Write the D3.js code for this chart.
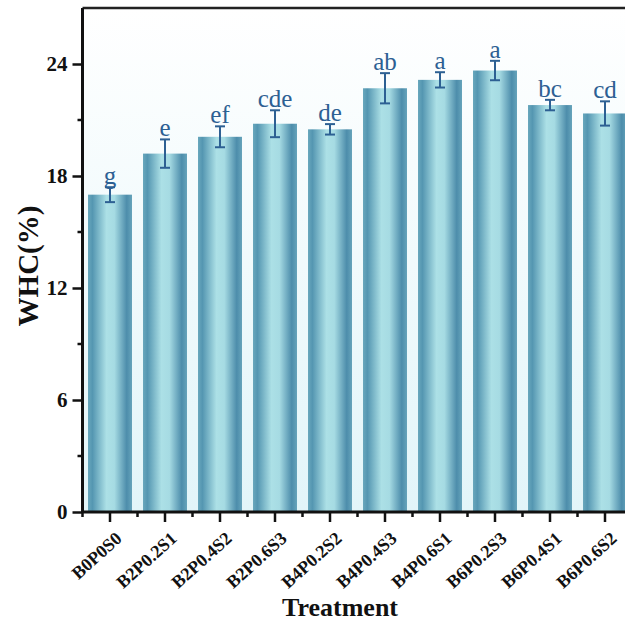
<!DOCTYPE html>
<html>
<head>
<meta charset="utf-8">
<script src="https://cdn.jsdelivr.net/npm/d3@7"></script>
<style>
  body { margin: 0; background: #fff; }
  svg { display: block; }
  text { font-family: "Liberation Serif", "Times New Roman", serif; }
</style>
</head>
<body>
<div id="chart"></div>
<script>
// data
var treatments = ["B0P0S0", "B2P0.2S1", "B2P0.4S2", "B2P0.6S3", "B4P0.2S2",
                  "B4P0.4S3", "B4P0.6S1", "B6P0.2S3", "B6P0.4S1", "B6P0.6S2"];
var whc = [17.0, 19.2, 20.1, 20.8, 20.5, 22.7, 23.15, 23.65, 21.8, 21.35];
var whcErr = [0.4, 0.76, 0.56, 0.72, 0.28, 0.81, 0.41, 0.52, 0.28, 0.65];
var letters = ["g", "e", "ef", "cde", "de", "ab", "a", "a", "bc", "cd"];
var yTicks = [0, 6, 12, 18, 24];
var yMinor = [3, 9, 15, 21];

var width = 625, height = 622;
var margin = {top: 8, left: 82.5, bottom: 110};
var plotW = 550;   // frame runs past the right edge of the picture
var plotH = height - margin.top - margin.bottom;
var serif = "'Liberation Serif', 'Times New Roman', serif";

var svg = d3.select("#chart").append("svg")
  .attr("width", width).attr("height", height);

var defs = svg.append("defs");
var barGrad = defs.append("linearGradient").attr("id", "barGrad")
  .attr("x1", "0%").attr("x2", "100%").attr("y1", "0%").attr("y2", "0%");
[[0, "#69a8bd"], [0.1, "#5496b1"], [0.42, "#ace0e6"], [0.6, "#a6dbe3"],
 [0.88, "#4d8dab"], [1, "#66a4bb"]].forEach(function(s){
  barGrad.append("stop").attr("offset", s[0]).attr("stop-color", s[1]);
});
var bgGrad = defs.append("linearGradient").attr("id", "bgGrad")
  .attr("x1", "0%").attr("x2", "0%").attr("y1", "0%").attr("y2", "100%");
bgGrad.append("stop").attr("offset", 0).attr("stop-color", "#ffffff");
bgGrad.append("stop").attr("offset", 1).attr("stop-color", "#e2f5f9");

var g = svg.append("g").attr("transform", "translate(" + margin.left + "," + margin.top + ")");

var x = d3.scaleBand().domain(treatments).range([0, plotW]).paddingInner(0.2).paddingOuter(0.1);
var y = d3.scaleLinear().domain([0, 27]).range([plotH, 0]);

g.append("rect").attr("width", plotW).attr("height", plotH).attr("fill", "url(#bgGrad)");

// bars
g.selectAll(".bar").data(treatments).enter().append("rect")
  .attr("class", "bar")
  .attr("x", function(d){ return x(d); })
  .attr("y", function(d, i){ return y(whc[i]); })
  .attr("width", x.bandwidth())
  .attr("height", function(d, i){ return plotH - y(whc[i]); })
  .attr("fill", "url(#barGrad)");

// error bars + significance letters
var errCol = "#2d6093";
var eb = g.selectAll(".err").data(treatments).enter().append("g")
  .attr("class", "err")
  .attr("transform", function(d){ return "translate(" + (x(d) + x.bandwidth() / 2) + ",0)"; });
eb.append("line")
  .attr("y1", function(d, i){ return y(whc[i] + whcErr[i]); })
  .attr("y2", function(d, i){ return y(whc[i] - whcErr[i]); })
  .attr("stroke", errCol).attr("stroke-width", 2);
[1, -1].forEach(function(sgn){
  eb.append("line")
    .attr("x1", -5).attr("x2", 5)
    .attr("y1", function(d, i){ return y(whc[i] + sgn * whcErr[i]); })
    .attr("y2", function(d, i){ return y(whc[i] + sgn * whcErr[i]); })
    .attr("stroke", errCol).attr("stroke-width", 2);
});
eb.append("text")
  .attr("y", function(d, i){ return y(whc[i] + whcErr[i]) - 3; })
  .attr("text-anchor", "middle")
  .attr("font-family", serif)
  .attr("font-size", 25)
  .attr("fill", errCol)
  .text(function(d, i){ return letters[i]; });

// top frame line
g.append("line").attr("x1", 0).attr("x2", plotW).attr("y1", 0).attr("y2", 0)
  .attr("stroke", "#222").attr("stroke-width", 2.5);

// y axis
var yAxis = g.append("g")
  .call(d3.axisLeft(y).tickValues(yTicks).tickSize(10).tickPadding(5));
yAxis.append("g").selectAll("line").data(yMinor).enter().append("line")
  .attr("x1", -5).attr("x2", 0)
  .attr("y1", function(d){ return y(d); }).attr("y2", function(d){ return y(d); });
yAxis.selectAll("line").attr("stroke", "#111").attr("stroke-width", 2.5);
yAxis.select(".domain").attr("d", "M0," + plotH + "V0").attr("stroke", "#111").attr("stroke-width", 3);
yAxis.selectAll("text")
  .attr("font-family", serif)
  .attr("font-weight", "bold").attr("font-size", 21).attr("fill", "#111");

// x axis
var xAxis = g.append("g").attr("transform", "translate(0," + plotH + ")")
  .call(d3.axisBottom(x).tickSize(10).tickPadding(4));
var bounds = treatments.map(function(d){ return x(d) - x.step() * x.paddingInner() / 2; });
xAxis.append("g").selectAll("line").data(bounds).enter().append("line")
  .attr("x1", function(d){ return d; }).attr("x2", function(d){ return d; })
  .attr("y1", 0).attr("y2", 5);
xAxis.selectAll("line").attr("stroke", "#111").attr("stroke-width", 2.5);
xAxis.select(".domain").attr("d", "M0,0H" + plotW).attr("stroke", "#111").attr("stroke-width", 3);
xAxis.selectAll(".tick text")
  .attr("font-family", serif)
  .attr("font-weight", "bold").attr("font-size", 18).attr("fill", "#111")
  .attr("text-anchor", "end")
  .attr("dy", null)
  .attr("x", 0).attr("y", 0)
  .attr("transform", "translate(13,28) rotate(-42)");

// axis titles
svg.append("text")
  .attr("transform", "translate(38," + (margin.top + plotH / 2 + 6) + ") rotate(-90)")
  .attr("text-anchor", "middle")
  .attr("font-family", serif)
  .attr("font-weight", "bold").attr("font-size", 29).attr("fill", "#111")
  .text("WHC(%)");
svg.append("text")
  .attr("x", 340).attr("y", 616)
  .attr("text-anchor", "middle")
  .attr("font-family", serif)
  .attr("font-weight", "bold").attr("font-size", 26).attr("fill", "#111")
  .text("Treatment");
</script>
</body>
</html>
